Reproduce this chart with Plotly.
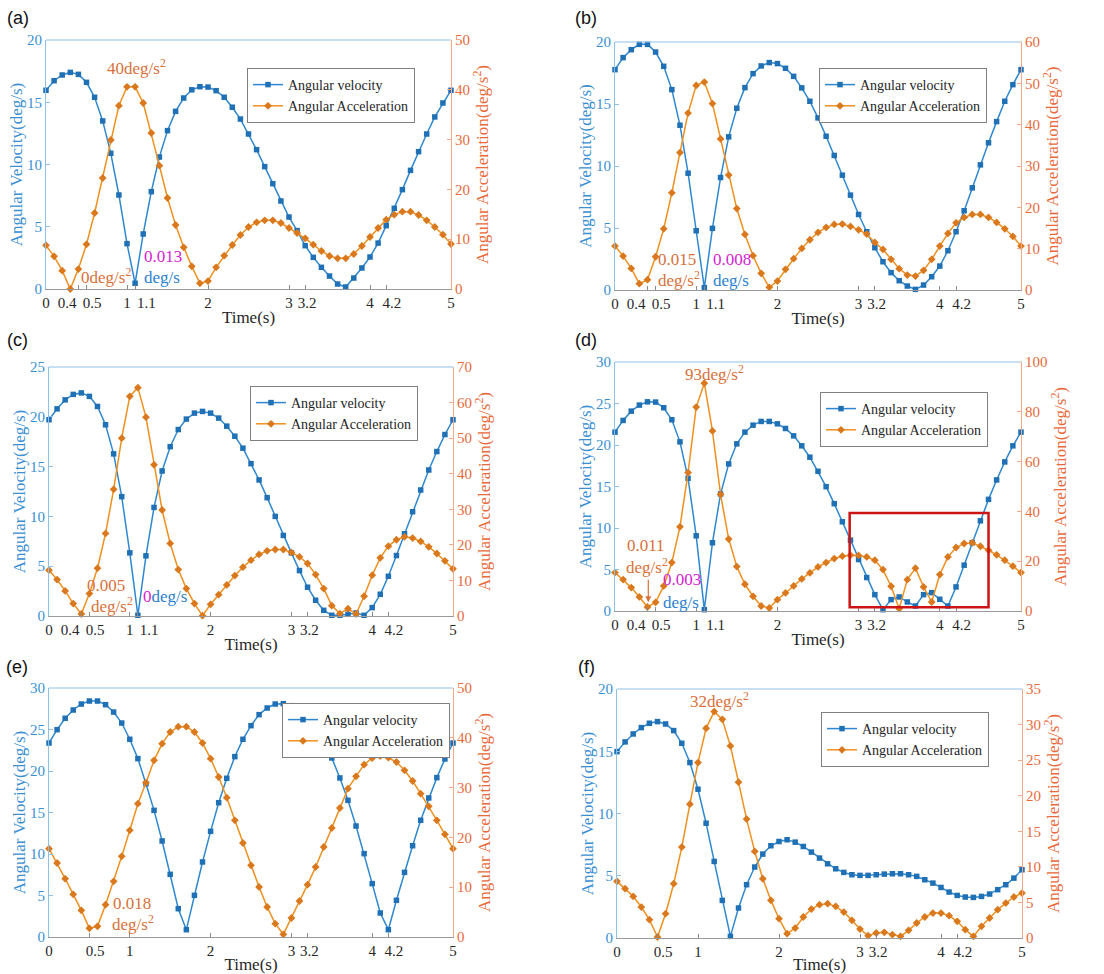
import plotly.graph_objects as go

# ---------------- data ----------------
time_s = [round(0.1 * i, 1) for i in range(51)]

vel_a = [15.96, 16.73, 17.19, 17.4, 17.24, 16.6, 15.4, 13.5, 10.9, 7.55, 3.64, 0.46, 4.42, 7.82, 10.6, 12.72,
         14.27, 15.34, 16.0, 16.25, 16.22, 15.93, 15.4, 14.6, 13.65, 12.45, 11.19, 9.83, 8.46, 7.07, 5.78,
         4.69, 3.48, 2.54, 1.74, 1.04, 0.4, 0.16, 0.88, 1.69, 2.57, 3.69, 5.09, 6.48, 7.98, 9.53, 11.03,
         12.45, 13.82, 14.94, 15.96]
acc_a = [8.77, 6.56, 3.68, 0.0, 4.0, 8.97, 15.26, 22.29, 29.92, 36.81, 40.6, 40.6, 37.35, 31.33, 24.77, 18.27,
         12.85, 8.37, 4.55, 1.14, 1.6, 4.35, 6.69, 8.84, 10.84, 12.45, 13.39, 13.79, 13.79, 13.25, 12.25,
         11.24, 10.17, 8.9, 7.63, 6.63, 6.16, 6.16, 7.03, 8.63, 10.44, 12.25, 13.92, 14.93, 15.53, 15.53,
         14.86, 13.79, 12.45, 10.91, 9.04]

vel_b = [17.77, 18.74, 19.38, 19.81, 19.81, 19.19, 18.04, 16.16, 13.29, 9.42, 4.78, 0.19, 4.97, 9.07, 12.35,
         14.66, 16.32, 17.45, 18.07, 18.34, 18.26, 17.88, 17.23, 16.3, 15.22, 13.88, 12.4, 10.85, 9.26, 7.65,
         6.09, 4.7, 3.41, 2.28, 1.4, 0.75, 0.32, 0.05, 0.4, 1.07, 1.93, 3.17, 4.7, 6.39, 8.24, 10.09, 11.87,
         13.58, 15.22, 16.56, 17.77]
acc_b = [10.63, 8.21, 5.23, 1.53, 2.5, 8.05, 14.8, 23.5, 33.25, 42.8, 49.5, 50.3, 45.1, 36.55, 27.8, 19.7,
         13.45, 8.3, 4.03, 0.64, 2.17, 5.0, 7.57, 10.07, 12.16, 13.93, 15.14, 15.86, 15.94, 15.38, 14.57,
         13.53, 11.51, 9.82, 7.41, 5.15, 3.62, 3.38, 4.75, 7.41, 10.63, 13.69, 16.26, 17.55, 18.28, 18.28,
         17.55, 16.34, 14.81, 12.96, 10.63]

vel_c = [19.7, 20.8, 21.7, 22.25, 22.4, 22.05, 21.04, 19.2, 16.28, 11.98, 6.34, 0.07, 6.04, 10.9, 14.56, 17.0,
         18.72, 19.77, 20.37, 20.54, 20.37, 19.87, 19.06, 18.05, 16.85, 15.3, 13.66, 11.88, 10.0, 8.09, 6.34,
         4.56, 2.89, 1.58, 0.57, 0.07, 0.07, 0.17, 0.3, 0.07, 0.84, 2.18, 3.99, 6.07, 8.26, 10.47, 12.65,
         14.66, 16.51, 18.22, 19.7]
acc_c = [12.88, 10.24, 7.05, 3.48, 0.56, 6.3, 13.44, 23.2, 35.6, 50.0, 61.75, 64.2, 55.9, 42.5, 29.8, 20.4,
         13.06, 7.7, 3.48, 0.1, 3.29, 6.0, 8.74, 11.37, 13.72, 15.7, 17.3, 18.33, 18.7, 18.7, 17.86, 16.64,
         14.76, 11.65, 7.7, 2.91, 0.66, 2.07, 0.56, 5.55, 11.47, 16.35, 19.64, 21.43, 22.27, 21.9, 20.96,
         19.45, 17.57, 15.5, 13.25]

vel_d = [21.55, 22.96, 24.08, 24.81, 25.2, 25.17, 24.49, 23.04, 20.38, 15.99, 9.06, 0.16, 8.22, 14.1, 17.72,
         20.14, 21.55, 22.39, 22.84, 22.84, 22.55, 21.99, 21.1, 19.9, 18.53, 16.83, 14.98, 12.93, 10.75, 8.54,
         6.2, 4.03, 1.97, 0.16, 1.37, 1.69, 1.09, 0.6, 1.97, 2.21, 1.41, 0.6, 2.9, 5.52, 8.22, 10.87, 13.45,
         15.79, 17.96, 19.9, 21.55]
acc_d = [15.44, 12.62, 9.4, 5.64, 1.61, 3.49, 10.07, 19.46, 33.8, 55.6, 81.9, 91.5, 72.3, 46.8, 28.9, 17.85,
         10.74, 5.9, 2.0, 1.2, 4.56, 7.25, 10.07, 12.89, 15.3, 17.7, 19.46, 21.07, 22.0, 22.4, 22.3, 21.7,
         20.4, 16.64, 9.93, 0.94, 12.6, 17.2, 9.66, 3.62, 14.63, 21.7, 25.5, 27.1, 27.4, 26.0, 24.4, 22.55,
         20.4, 17.99, 15.44]

vel_e = [23.37, 24.98, 26.35, 27.35, 28.07, 28.43, 28.43, 27.99, 27.1, 25.78, 23.82, 21.49, 18.47, 15.26,
         11.57, 7.55, 3.41, 0.88, 5.02, 9.04, 12.73, 16.18, 19.12, 21.73, 23.82, 25.46, 26.79, 27.59, 28.07,
         28.11, 27.87, 27.39, 26.43, 25.1, 23.61, 21.57, 19.16, 16.47, 13.37, 10.04, 6.43, 2.89, 0.88, 4.42,
         7.79, 11.0, 14.06, 16.75, 19.2, 21.45, 23.37]
acc_e = [17.74, 14.86, 11.71, 8.57, 5.35, 1.74, 2.14, 6.49, 11.18, 16.2, 21.42, 26.77, 30.99, 35.47, 38.82,
         41.16, 42.24, 42.24, 41.16, 38.96, 35.81, 32.13, 27.98, 23.43, 18.88, 14.39, 10.04, 6.02, 2.68, 0.54,
         3.82, 7.23, 10.51, 14.06, 18.07, 21.89, 25.9, 29.79, 32.26, 34.6, 35.94, 36.35, 36.0, 35.14, 33.47,
         31.33, 28.78, 26.24, 23.43, 20.62, 17.74]

vel_f = [14.97, 15.75, 16.39, 16.9, 17.25, 17.38, 17.19, 16.66, 15.64, 14.09, 11.95, 9.22, 6.15, 3.02, 0.13,
         2.41, 4.28, 5.7, 6.74, 7.41, 7.75, 7.89, 7.7, 7.35, 6.9, 6.42, 5.96, 5.56, 5.27, 5.08, 5.03, 5.03,
         5.08, 5.13, 5.16, 5.16, 5.08, 4.95, 4.68, 4.41, 4.06, 3.69, 3.42, 3.29, 3.26, 3.34, 3.53, 3.88, 4.28,
         4.81, 5.48]
acc_f = [7.96, 6.93, 5.85, 4.35, 2.57, 0.14, 3.42, 7.63, 12.78, 18.81, 24.66, 29.48, 31.82, 30.74, 27.0, 21.9,
         16.71, 12.17, 8.33, 5.29, 2.71, 0.61, 1.4, 2.95, 4.07, 4.68, 4.82, 4.45, 3.65, 2.48, 1.26, 0.33, 0.7,
         0.8, 0.47, 0.23, 1.08, 2.11, 2.95, 3.51, 3.51, 3.14, 2.34, 1.17, 0.23, 1.64, 2.81, 3.98, 4.91, 5.76,
         6.32]

xticks_full = [0, 0.4, 0.5, 1, 1.1, 2, 3, 3.2, 4, 4.2, 5]
xlabels_full = ["0", "0.4", "0.5", "1", "1.1", "2", "3", "3.2", "4", "4.2", "5"]
xticks_short = [0, 0.5, 1, 2, 3, 3.2, 4, 4.2, 5]
xlabels_short = ["0", "0.5", "1", "2", "3", "3.2", "4", "4.2", "5"]

vel_max = {"a": 20, "b": 20, "c": 25, "d": 30, "e": 30, "f": 20}
acc_max = {"a": 50, "b": 60, "c": 70, "d": 100, "e": 50, "f": 35}
acc_dtick = {"a": 10, "b": 10, "c": 10, "d": 20, "e": 10, "f": 5}

series_names = ["Angular velocity", "Angular Acceleration"]

# ---------------- styles ----------------
W, H = 1104, 974
SERIF = "Times New Roman, Liberation Serif, DejaVu Serif, serif"
VEL_LINE, VEL_MARK = "#2f88cf", "#1f70b4"
ACC_LINE, ACC_MARK = "#ef901f", "#d9781c"
LEFT_TXT, LEFT_LINE = "#3a8fd3", "#8fc1e8"
RIGHT_TXT, RIGHT_LINE = "#e86a3a", "#f3a88c"
ANN_ORANGE, ANN_MAG, ANN_BLUE = "#d8713a", "#d323d3", "#2b80cf"
NB = "\u00a0"
# (leading, trailing) no-break spaces used to nudge crowded tick labels apart
label_pad = {"0.4": (0, 6), "0.5": (3, 0), "1.1": (6, 0), "3.2": (1, 0), "4.2": (3, 0)}
label_pad_short = {"0.5": (3, 0), "3.2": (1, 0), "4.2": (3, 0)}

# pixel boxes of each plot area: (left, right, top, bottom)
boxes = {"a": (46, 451, 40, 289), "b": (615, 1021, 42, 290), "c": (49, 453, 367, 616),
         "d": (615, 1021, 362, 611), "e": (49, 453, 688, 937), "f": (617, 1022, 689, 938)}
# legend top-right corners
legend_pos = {"a": (415, 68), "b": (987, 68), "c": (418, 386), "d": (988, 392), "e": (450, 703), "f": (989, 712)}
tag_pos = {"a": (18, 18), "b": (586, 18), "c": (17, 340), "d": (586, 340), "e": (17, 667), "f": (586, 667)}

panels = [
    ("a", vel_a, acc_a, xticks_full, xlabels_full),
    ("b", vel_b, acc_b, xticks_full, xlabels_full),
    ("c", vel_c, acc_c, xticks_full, xlabels_full),
    ("d", vel_d, acc_d, xticks_full, xlabels_full),
    ("e", vel_e, acc_e, xticks_short, xlabels_short),
    ("f", vel_f, acc_f, xticks_short, xlabels_short),
]

def pad(lbl, table):
    l, r = table.get(lbl, (0, 0))
    return NB * l + lbl + NB * r

fig = go.Figure()
layout = dict(width=W, height=H, margin=dict(l=0, r=0, t=0, b=0, autoexpand=False), paper_bgcolor="white",
              plot_bgcolor="white", showlegend=True)
shapes, annotations = [], []

SUP2 = "deg/s<sup>2</sup>"
# annotations: panel -> list of (x, y_vel, text, color)
notes = {
    "a": [(1.12, 17.8, "40" + SUP2, ANN_ORANGE), (0.74, 1.04, "0" + SUP2, ANN_ORANGE),
          (1.44, 2.57, "0.013", ANN_MAG), (1.43, 0.96, "deg/s", ANN_BLUE)],
    "b": [(0.76, 2.5, "0.015", ANN_ORANGE), (0.79, 0.89, SUP2, ANN_ORANGE),
          (1.44, 2.5, "0.008", ANN_MAG), (1.43, 0.8, "deg/s", ANN_BLUE)],
    "c": [(0.7, 3.1, "0.005", ANN_ORANGE), (0.78, 1.07, SUP2, ANN_ORANGE),
          (1.43, 1.98, '<span style="color:%s">0</span>deg/s' % ANN_MAG, ANN_BLUE)],
    "d": [(1.23, 28.7, "93" + SUP2, ANN_ORANGE), (0.38, 7.9, "0.011", ANN_ORANGE),
          (0.39, 5.4, SUP2, ANN_ORANGE), (0.82, 3.8, "0.003", ANN_MAG), (0.81, 1.05, "deg/s", ANN_BLUE)],
    "e": [(1.03, 4.06, "0.018", ANN_ORANGE), (1.04, 1.65, SUP2, ANN_ORANGE)],
    "f": [(1.26, 19.1, "32" + SUP2, ANN_ORANGE)],
}
blue_arrows = {"a": (0.27, 1.2), "b": (0.28, 1.17), "c": (0.25, 1.16), "d": (0.31, 1.19)}

for k, (key, vel, acc, xt, xl) in enumerate(panels, start=1):
    L, R, T, B = boxes[key]
    xd = [L / W, R / W]
    yd = [1 - B / H, 1 - T / H]
    xa = "x" if k == 1 else f"x{k}"
    yl = "y" if k == 1 else f"y{2 * k - 1}"
    yr = f"y{2 * k}"
    leg = "legend" if k == 1 else f"legend{k}"
    ptab = label_pad if len(xl) == len(xlabels_full) else label_pad_short

    fig.add_trace(go.Scatter(x=time_s, y=vel, xaxis=xa, yaxis=yl, mode="lines+markers",
                             name=series_names[0], legend=leg, cliponaxis=False,
                             line=dict(color=VEL_LINE, width=1.5),
                             marker=dict(symbol="square", size=5.5, color=VEL_MARK)))
    fig.add_trace(go.Scatter(x=time_s, y=acc, xaxis=xa, yaxis=yr, mode="lines+markers",
                             name=series_names[1], legend=leg, cliponaxis=False,
                             line=dict(color=ACC_LINE, width=1.5),
                             marker=dict(symbol="diamond", size=6, color=ACC_MARK)))

    xkey = "xaxis" if k == 1 else f"xaxis{k}"
    ylkey = "yaxis" if k == 1 else f"yaxis{2 * k - 1}"
    yrkey = f"yaxis{2 * k}"
    layout[xkey] = dict(domain=xd, anchor=yl, range=[0, 5], tickmode="array", tickvals=xt,
                        ticktext=[pad(s, ptab) for s in xl], ticks="inside", ticklen=4, tickcolor="#8a8a8a",
                        tickangle=0, automargin=False,
                        showline=True, linecolor="#9a9a9a", linewidth=1, showgrid=False, zeroline=False,
                        tickfont=dict(family=SERIF, size=15, color="#262626"),
                        title=dict(text="Time(s)", font=dict(family=SERIF, size=17, color="#262626"),
                                   standoff=1))
    layout[ylkey] = dict(domain=yd, anchor=xa, range=[0, vel_max[key]], dtick=5, tick0=0,
                         ticks="inside", ticklen=4, tickcolor=LEFT_LINE, showline=True, automargin=False,
                         linecolor=LEFT_LINE, linewidth=1, showgrid=False, zeroline=False,
                         tickfont=dict(family=SERIF, size=15, color=LEFT_TXT),
                         title=dict(text="Angular Velocity(deg/s)",
                                    font=dict(family=SERIF, size=17, color=LEFT_TXT), standoff=0))
    layout[yrkey] = dict(overlaying=yl, anchor=xa, side="right", range=[0, acc_max[key]], automargin=False,
                         dtick=acc_dtick[key], tick0=0, ticks="inside", ticklen=4, tickcolor=RIGHT_LINE,
                         showline=True, linecolor=RIGHT_LINE, linewidth=1, showgrid=False, zeroline=False,
                         tickfont=dict(family=SERIF, size=15, color=RIGHT_TXT),
                         title=dict(text="Angular Acceleration(deg/s<sup>2</sup>)",
                                    font=dict(family=SERIF, size=17, color=RIGHT_TXT), standoff=7))
    lx, ly = legend_pos[key]
    layout[leg] = dict(x=lx / W, y=1 - ly / H, xanchor="right", yanchor="top", xref="paper", yref="paper",
                       bgcolor="white", bordercolor="#808080", borderwidth=1, tracegroupgap=0,
                       itemwidth=30, font=dict(family=SERIF, size=14, color="#262626"))

    # top border of the box
    shapes.append(dict(type="line", xref=f"{xa} domain", yref=f"{yl} domain", x0=0, x1=1, y0=1, y1=1,
                       line=dict(color=LEFT_LINE, width=1)))

    for (ax_, ay_, txt, col) in notes[key]:
        annotations.append(dict(x=ax_, y=ay_, xref=xa, yref=yl, text=txt, showarrow=False,
                                xanchor="center", yanchor="middle",
                                font=dict(family=SERIF, size=17, color=col)))
    if key in blue_arrows:
        below = -4 * vel_max[key] / (B - T)
        x1, x2 = blue_arrows[key]
        annotations.append(dict(x=x1, y=below, xref=xa, yref=yl, text="", showarrow=True, ax=-4, ay=6,
                                arrowhead=2, arrowsize=0.8, arrowwidth=1.5, arrowcolor="#3a6fd8"))
        annotations.append(dict(x=x2, y=below, xref=xa, yref=yl, text="", showarrow=True, ax=5, ay=6,
                                arrowhead=2, arrowsize=0.8, arrowwidth=1.5, arrowcolor="#3a6fd8"))
    tx, ty = tag_pos[key]
    annotations.append(dict(x=tx / W, y=1 - ty / H, xref="paper", yref="paper", text=f"({key})",
                            showarrow=False, xanchor="center", yanchor="middle",
                            font=dict(family="Liberation Sans, Arial, sans-serif", size=18, color="#111111")))

# panel (d): arrow to the acceleration minimum and the red box
annotations.append(dict(x=0.41, y=1.05, xref="x4", yref="y7", text="", showarrow=True, ax=0, ay=-24,
                        arrowhead=2, arrowsize=1, arrowwidth=1.2, arrowcolor=ANN_ORANGE))
shapes.append(dict(type="rect", xref="x4", yref="y7", x0=2.89, x1=4.6, y0=0.45, y1=11.8,
                   line=dict(color="#cc1414", width=2.5), fillcolor="rgba(0,0,0,0)"))

layout["shapes"] = shapes
layout["annotations"] = annotations
fig.update_layout(**layout)
fig.write_html("out.html")
